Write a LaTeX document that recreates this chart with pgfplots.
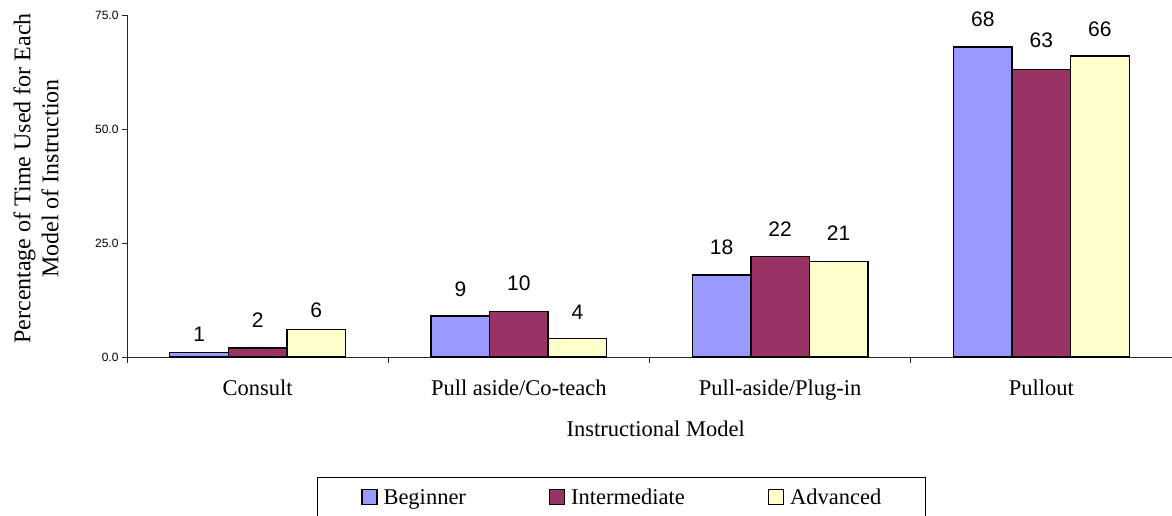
\documentclass[border=0pt]{standalone}
\usepackage{pgfplots}
\usepackage{pgfplotstable}
\pgfplotsset{compat=1.18}
\usepackage{fontspec}
\setmainfont{Liberation Serif}
\newfontfamily\arial{Liberation Sans}

\definecolor{beginner}{HTML}{9999FF}
\definecolor{intermediate}{HTML}{993366}
\definecolor{advanced}{HTML}{FFFFCC}

% x = instructional model, y = percentage, gap = label lift above the bar (pt)
\pgfplotstableread{
x y gap
0 1 10
1 9 19
2 18 20
3 68 20
}\beginnerdata
\pgfplotstableread{
x y gap
0 2 20
1 10 20
2 22 20
3 63 21
}\intermediatedata
\pgfplotstableread{
x y gap
0 6 11
1 4 19
2 21 20
3 66 19
}\advanceddata

\begin{document}
\begin{tikzpicture}
\useasboundingbox (0,0) rectangle (1172pt,516pt);
\begin{axis}[
  at={(127pt,159pt)}, anchor=south west,
  scale only axis, width=1045pt, height=342pt,
  ybar=0pt, bar width=0.224,
  xmin=-0.5, xmax=3.5, ymin=0, ymax=75,
  clip=false,
  axis x line=bottom, axis y line=left,
  axis line style={-, line width=0.9pt, black!85},
  xtick={0,1,2,3},
  xticklabels={Consult, Pull aside/Co-teach, Pull-aside/Plug-in, Pullout},
  minor xtick={-0.5,0.5,1.5,2.5,3.5},
  major x tick style={draw=none},
  tick align=outside,
  major tick length=5pt, minor tick length=6pt,
  tick style={line width=0.9pt, black!85},
  ytick={0,25,50,75},
  /pgf/number format/assume math mode=true,
  xticklabel style={font=\fontsize{22.5}{26}\selectfont, anchor=base, yshift=-34pt},
  yticklabel style={font=\arial\fontsize{12}{14}\selectfont,
    /pgf/number format/.cd, fixed, fixed zerofill, precision=1},
  xlabel={Instructional Model},
  xlabel style={font=\fontsize{22.5}{26}\selectfont,
    at={(axis description cs:0.506,-0.233)}, anchor=base},
  ylabel={Percentage of Time Used for Each\\Model of Instruction},
  ylabel style={font=\fontsize{24}{28}\selectfont, align=center,
    at={(axis description cs:-0.0871,0.522)}, anchor=center},
  visualization depends on={\thisrow{gap} \as \labelgap},
  nodes near coords,
  nodes near coords style={font=\arial\fontsize{21}{24}\selectfont,
    inner sep=0pt, anchor=south, yshift=\labelgap pt},
  every axis plot/.append style={draw=black, line width=1.3pt},
  legend columns=3,
  legend image code/.code={\draw[#1, line width=1.2pt] (0pt,0pt) rectangle (15pt,15pt);},
  legend style={at={(axis description cs:0.473,-0.35)}, anchor=north,
    draw=black, line width=0.9pt, inner xsep=44pt, inner ysep=12pt,
    font=\fontsize{22.5}{26}\selectfont,
    nodes={inner sep=0pt, anchor=base west},
    /tikz/every odd column/.append style={column sep=6pt},
    /tikz/every even column/.append style={column sep=83pt}},
]
\addplot[fill=beginner] table[x=x, y=y] {\beginnerdata};
\addplot[fill=intermediate] table[x=x, y=y] {\intermediatedata};
\addplot[fill=advanced] table[x=x, y=y] {\advanceddata};
\legend{Beginner, Intermediate, Advanced}
\end{axis}
\end{tikzpicture}
\end{document}
